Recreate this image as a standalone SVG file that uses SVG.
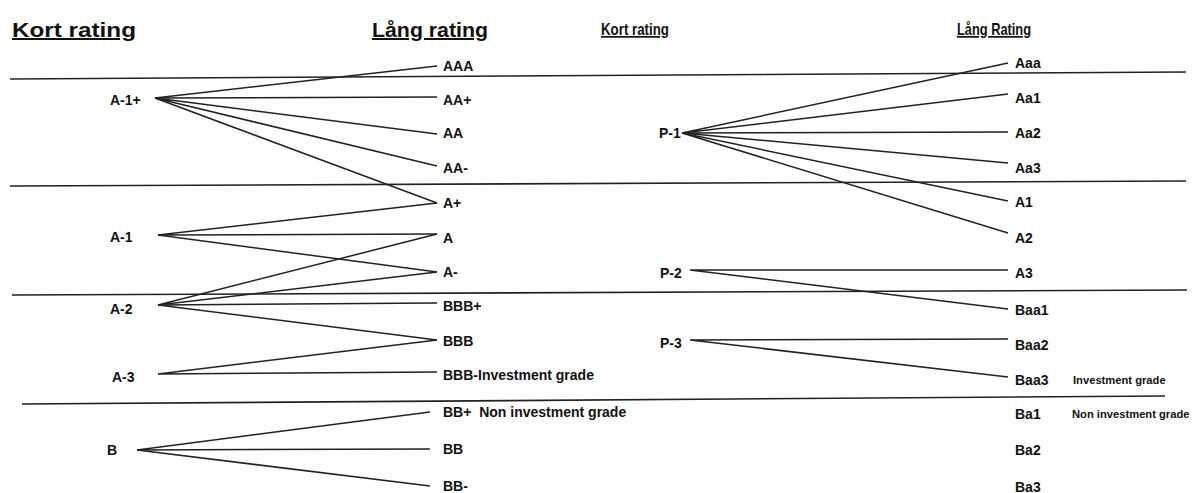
<svg xmlns="http://www.w3.org/2000/svg" width="1199" height="493" viewBox="0 0 1199 493">
<style>
.t{font-family:"Liberation Sans",Arial,sans-serif;font-weight:bold;fill:#111}
.ttl{font-size:20px;text-decoration:underline}
.lb{font-size:14px}
.n{font-family:"Liberation Sans Narrow","Liberation Sans",Arial,sans-serif;font-weight:bold;fill:#111;font-size:14px}
.nt{font-size:17px;text-decoration:underline}
.g{font-size:11.2px}
.sep{stroke:#222;stroke-width:1.6;fill:none}
.c{stroke:#222;stroke-width:1.5;fill:none}
</style>
<rect width="1199" height="493" fill="#fff"/>
<g id="titles">
<text class="t ttl" x="12" y="37" textLength="124" lengthAdjust="spacingAndGlyphs">Kort rating</text>
<text class="t ttl" x="372" y="37" textLength="116" lengthAdjust="spacingAndGlyphs">Lång rating</text>
<text class="n nt" x="601" y="35" textLength="68" lengthAdjust="spacingAndGlyphs">Kort rating</text>
<text class="n nt" x="957" y="35" textLength="74" lengthAdjust="spacingAndGlyphs">Lång Rating</text>
</g>
<g id="separators">
<line class="sep" x1="10" y1="79" x2="1186" y2="72"/>
<line class="sep" x1="10" y1="186" x2="1186" y2="181"/>
<line class="sep" x1="12" y1="295" x2="1187" y2="290"/>
<line class="sep" x1="22" y1="404" x2="1165" y2="396"/>
</g>
<g id="connectors">
<polyline class="c" points="437,66 155,98 437,97"/>
<polyline class="c" points="437,134 155,98 437,166"/>
<polyline class="c" points="155,98 437,203"/>
<polyline class="c" points="437,203 158,235 437,234"/>
<polyline class="c" points="158,235 437,272"/>
<polyline class="c" points="437,234 158,305 437,272"/>
<polyline class="c" points="437,303 158,305 437,340"/>
<polyline class="c" points="437,340 158,374 437,372"/>
<polyline class="c" points="430,412 137,450 430,449"/>
<polyline class="c" points="137,450 430,486"/>
<polyline class="c" points="1008,63 682,133 1008,94"/>
<polyline class="c" points="1008,132 682,133 1008,163"/>
<polyline class="c" points="1008,201 682,133 1008,233"/>
<polyline class="c" points="1008,270 690,270 1008,309"/>
<polyline class="c" points="1008,339 690,340 1008,377"/>
</g>
<g id="node-A-1plus"><text class="t lb" x="110" y="105">A-1+</text></g>
<g id="node-A-1"><text class="t lb" x="110" y="242">A-1</text></g>
<g id="node-A-2"><text class="t lb" x="110" y="314">A-2</text></g>
<g id="node-A-3"><text class="t lb" x="112" y="382">A-3</text></g>
<g id="node-B"><text class="t lb" x="107" y="455">B</text></g>
<g id="node-AAA"><text class="t lb" x="443" y="71">AAA</text></g>
<g id="node-AAplus"><text class="t lb" x="443" y="105">AA+</text></g>
<g id="node-AA"><text class="t lb" x="443" y="138">AA</text></g>
<g id="node-AAminus"><text class="t lb" x="443" y="173">AA-</text></g>
<g id="node-Aplus"><text class="t lb" x="443" y="208">A+</text></g>
<g id="node-A"><text class="t lb" x="443" y="243">A</text></g>
<g id="node-Aminus"><text class="t lb" x="443" y="277">A-</text></g>
<g id="node-BBBplus"><text class="t lb" x="443" y="311">BBB+</text></g>
<g id="node-BBB"><text class="t lb" x="443" y="346">BBB</text></g>
<g id="node-BBBminus"><text class="t lb" x="443" y="380">BBB-Investment grade</text></g>
<g id="node-BBplus"><text class="t lb" x="443" y="417" xml:space="preserve">BB+  Non investment grade</text></g>
<g id="node-BB"><text class="t lb" x="443" y="454">BB</text></g>
<g id="node-BBminus"><text class="t lb" x="443" y="491">BB-</text></g>
<g id="node-P-1"><text class="n" x="659" y="138">P-1</text></g>
<g id="node-P-2"><text class="n" x="660" y="278">P-2</text></g>
<g id="node-P-3"><text class="n" x="660" y="348">P-3</text></g>
<g id="node-Aaa"><text class="n" x="1015" y="68">Aaa</text></g>
<g id="node-Aa1"><text class="n" x="1015" y="103">Aa1</text></g>
<g id="node-Aa2"><text class="n" x="1015" y="138">Aa2</text></g>
<g id="node-Aa3"><text class="n" x="1015" y="173">Aa3</text></g>
<g id="node-A1"><text class="n" x="1015" y="207">A1</text></g>
<g id="node-A2"><text class="n" x="1015" y="243">A2</text></g>
<g id="node-A3"><text class="n" x="1015" y="278">A3</text></g>
<g id="node-Baa1"><text class="n" x="1015" y="315">Baa1</text></g>
<g id="node-Baa2"><text class="n" x="1015" y="350">Baa2</text></g>
<g id="node-Baa3"><text class="n" x="1015" y="385">Baa3</text><text class="n g" x="1073" y="384">Investment grade</text></g>
<g id="node-Ba1"><text class="n" x="1015" y="419">Ba1</text><text class="n g" x="1072" y="418">Non investment grade</text></g>
<g id="node-Ba2"><text class="n" x="1015" y="455">Ba2</text></g>
<g id="node-Ba3"><text class="n" x="1015" y="492">Ba3</text></g>
</svg>
